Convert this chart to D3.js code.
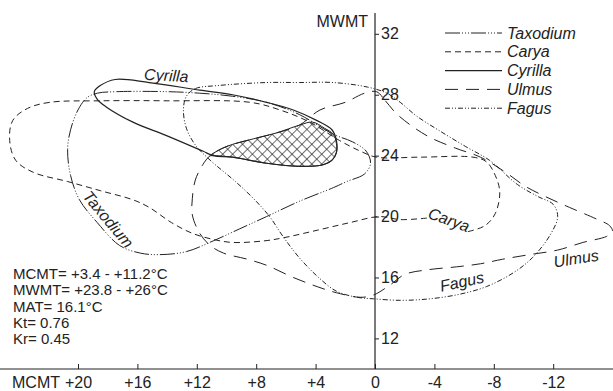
<!DOCTYPE html>
<html>
<head>
<meta charset="utf-8">
<script src="https://cdn.jsdelivr.net/npm/d3@7"></script>
<style>
  html, body { margin: 0; padding: 0; background: #fff; }
  svg { display: block; font-family: "Liberation Sans", Arial, Helvetica, sans-serif; }
</style>
</head>
<body>
<svg id="chart" width="613" height="391"></svg>
<script>
// Climatic ranges of five genera: [MCMT, MWMT] outline points in °C
const xTicks = [20, 16, 12, 8, 4, 0, -4, -8, -12];
const yTicks = [32, 28, 24, 20, 16, 12];

const taxodium = [[18.7,28.1],[17.4,28.2],[14.0,28.2],[11.8,28.1],[9.6,27.9],[7.3,27.5],[5.1,26.7],[2.8,25.4],[1.5,24.9],[0.6,24.3],[0.3,23.5],[0.7,22.8],[1.9,22.3],[2.8,21.9],[5.1,21.0],[7.3,20.0],[9.1,19.2],[10.9,18.4],[12.7,17.7],[14.5,17.5],[15.8,17.6],[17.2,18.1],[18.7,19.6],[19.9,21.1],[20.5,22.7],[20.7,24.4],[20.5,25.7],[20.0,27.0],[19.4,27.8]];

// open outline: the gap is where the "Carya" label sits
const carya = [[-3.5,19.9],[-1.7,19.8],[-0.3,20.0],[1.7,19.6],[3.9,19.1],[6.2,18.6],[7.5,18.4],[9.6,18.3],[10.9,18.5],[12.3,18.9],[13.7,19.6],[15.2,20.6],[16.3,21.1],[18.5,21.7],[20.7,22.3],[23.0,22.9],[24.2,23.7],[24.6,25.0],[24.4,26.3],[23.4,27.1],[21.9,27.5],[18.5,27.6],[14.0,27.6],[8.4,27.5],[6.4,27.0],[4.4,26.2],[2.4,25.0],[1.0,24.3],[-0.1,23.9],[-3.0,23.9],[-6.6,23.9],[-7.5,23.6],[-8.1,22.7],[-8.4,21.6],[-8.1,20.2],[-7.4,19.4],[-6.2,19.0]];

const cyrilla = [[18.9,28.2],[18.5,28.6],[17.5,29.0],[15.2,28.8],[11.8,28.3],[9.6,28.0],[7.3,27.5],[5.5,27.0],[3.9,26.3],[2.9,25.7],[2.6,25.0],[2.6,24.2],[2.9,23.7],[3.5,23.4],[5.1,23.3],[7.3,23.5],[9.6,23.9],[10.9,24.0],[11.6,24.3],[14.0,25.3],[16.3,26.2],[18.1,27.2],[18.7,27.7]];

const ulmus = [[-0.1,28.2],[-0.7,27.6],[-1.4,26.8],[-2.4,26.0],[-3.7,25.2],[-5.4,24.5],[-7.1,23.9],[-8.8,22.9],[-10.1,22.0],[-11.5,21.3],[-13.1,20.6],[-15.0,19.8],[-15.8,19.4],[-16.0,19.0],[-15.6,18.7],[-14.0,18.3],[-12.3,17.8],[-10.4,17.5],[-8.6,17.2],[-7.1,16.9],[-5.5,16.7],[-3.5,16.5],[-2.0,16.2],[-1.0,15.5],[0.1,14.85],[1.0,14.7],[2.6,15.0],[3.9,15.4],[5.5,16.0],[7.3,16.8],[8.6,17.2],[10.2,17.6],[11.1,18.1],[11.8,18.9],[12.3,20.1],[12.3,21.2],[12.1,22.4],[11.6,23.4],[11.1,24.0],[10.0,24.6],[8.2,25.1],[6.6,25.5],[5.1,26.0],[3.7,27.0],[2.0,27.5],[0.7,28.1]];

const fagus = [[12.7,27.9],[12.1,28.4],[10.6,28.6],[7.3,28.8],[5.1,28.8],[2.8,28.8],[0.5,28.5],[-0.8,28.1],[-1.7,27.5],[-2.8,26.6],[-4.4,25.6],[-6.1,24.6],[-7.7,23.7],[-9.6,22.1],[-11.0,21.3],[-12.0,20.8],[-12.3,20.0],[-11.8,18.8],[-10.6,17.3],[-9.3,16.3],[-7.5,15.4],[-5.7,14.9],[-3.7,14.6],[-1.7,14.5],[0.1,14.6],[1.2,14.7],[2.6,15.1],[3.8,16.0],[5.1,17.3],[6.2,18.7],[7.1,20.0],[8.1,21.1],[9.4,22.3],[11.1,23.7],[12.1,24.7],[12.7,25.8],[12.9,27.0]];

// coexistence interval (hatched)
const overlap = [[11.1,24.0],[10.0,24.6],[8.2,25.1],[6.6,25.5],[5.1,26.0],[4.2,26.2],[3.4,25.8],[2.8,25.4],[2.6,24.8],[2.6,24.2],[2.9,23.7],[3.5,23.4],[5.1,23.3],[7.3,23.5],[9.6,23.9],[10.9,24.0]];

const legendNames = ["Taxodium", "Carya", "Cyrilla", "Ulmus", "Fagus"];

// curve labels: text, MCMT, MWMT (baseline centre), rotation
const curveLabelText = ["Cyrilla", "Taxodium", "Carya", "Ulmus", "Fagus"];
const curveLabelAt = [[14.07, 28.9], [18.25, 19.58], [-4.85, 19.45], [-13.6, 16.89], [-5.93, 15.37]];
const curveLabelAngle = [3, 50, 20, -9, -12];

const notes = ["MCMT= +3.4 - +11.2\u00B0C", "MWMT= +23.8 - +26\u00B0C", "MAT= 16.1\u00B0C", "Kt= 0.76", "Kr= 0.45"];

const W = 613, H = 391;
const ink = "#222";
const svg = d3.select("#chart");

const x = d3.scaleLinear().domain([0, 20]).range([375, 78]);
const y = d3.scaleLinear().domain([12, 32]).range([338.4, 33.8]);
const axisY = 369;

// hatch pattern
const defs = svg.append("defs");
const pat = defs.append("pattern")
  .attr("id", "hatch").attr("patternUnits", "userSpaceOnUse")
  .attr("width", 7).attr("height", 7)
  .attr("patternTransform", "rotate(45)");
pat.append("line").attr("x1", 0).attr("y1", 0).attr("x2", 0).attr("y2", 7)
  .attr("stroke", ink).attr("stroke-width", 1.3);
pat.append("line").attr("x1", 0).attr("y1", 0).attr("x2", 7).attr("y2", 0)
  .attr("stroke", ink).attr("stroke-width", 1.3);

const styles = {
  Taxodium: "15,2,1,2,1,2,1,2",
  Carya: "6,4",
  Cyrilla: null,
  Ulmus: "13,8",
  Fagus: "5,2,1,2,1,2"
};

const closed = d3.line().x(d => x(d[0])).y(d => y(d[1])).curve(d3.curveCatmullRomClosed.alpha(0.5));
const open = d3.line().x(d => x(d[0])).y(d => y(d[1])).curve(d3.curveCatmullRom.alpha(0.5));

svg.append("path").attr("d", closed(overlap))
  .attr("fill", "url(#hatch)").attr("stroke", ink).attr("stroke-width", 1);

const outlines = [
  ["Taxodium", taxodium, closed],
  ["Carya", carya, open],
  ["Cyrilla", cyrilla, closed],
  ["Ulmus", ulmus, closed],
  ["Fagus", fagus, closed]
];
outlines.forEach(([name, pts, gen]) => {
  svg.append("path").attr("d", gen(pts))
    .attr("fill", "none").attr("stroke", ink)
    .attr("stroke-width", name === "Cyrilla" ? 1.2 : 1)
    .attr("stroke-dasharray", styles[name]);
});

// axes
svg.append("line").attr("x1", 0).attr("x2", W).attr("y1", axisY).attr("y2", axisY)
  .attr("stroke", ink).attr("stroke-width", 1.2);
svg.append("line").attr("x1", x(0)).attr("x2", x(0)).attr("y1", 13).attr("y2", axisY)
  .attr("stroke", ink).attr("stroke-width", 1.2);

const fmt = d => d > 0 ? "+" + d : (d < 0 ? "-" + Math.abs(d) : "0");
const gx = svg.append("g").attr("transform", `translate(0,${axisY})`)
  .call(d3.axisBottom(x).tickValues(xTicks).tickFormat(fmt).tickSize(-5).tickPadding(8));
gx.select(".domain").remove();
gx.selectAll("line").attr("stroke", ink);
gx.selectAll("text").attr("font-size", 16).attr("fill", ink);

const gy = svg.append("g").attr("transform", `translate(${x(0)},0)`)
  .call(d3.axisRight(y).tickValues(yTicks).tickSize(4).tickPadding(2));
gy.select(".domain").remove();
gy.selectAll("line").attr("stroke", ink);
gy.selectAll("text").attr("font-size", 16).attr("fill", ink);
gx.attr("font-family", null); gy.attr("font-family", null);

svg.append("text").attr("x", 12).attr("y", 388).attr("font-size", 16).attr("fill", ink).text("MCMT");
svg.append("text").attr("x", 368).attr("y", 27).attr("text-anchor", "end")
  .attr("font-size", 16).attr("fill", ink).text("MWMT");

// legend
const lg = svg.append("g");
legendNames.forEach((n, i) => {
  const yy = 33 + i * 18.8;
  lg.append("line").attr("x1", 445).attr("x2", 502).attr("y1", yy).attr("y2", yy)
    .attr("stroke", ink).attr("stroke-width", n === "Cyrilla" ? 1.2 : 1)
    .attr("stroke-dasharray", styles[n]);
  lg.append("text").attr("x", 507).attr("y", yy).attr("dy", "0.35em")
    .attr("font-size", 16).attr("font-style", "italic").attr("fill", ink).text(n);
});

// curve labels
curveLabelText.forEach((t, i) => {
  const [mx, mw] = curveLabelAt[i];
  svg.append("text")
    .attr("transform", `translate(${x(mx)},${y(mw)}) rotate(${curveLabelAngle[i]})`)
    .attr("text-anchor", "middle").attr("font-size", 16).attr("font-style", "italic")
    .attr("fill", ink).text(t);
});

// climate notes
notes.forEach((t, i) => {
  svg.append("text").attr("x", 13).attr("y", 279 + i * 16.3)
    .attr("font-size", 15).attr("fill", ink).text(t);
});
</script>
</body>
</html>
